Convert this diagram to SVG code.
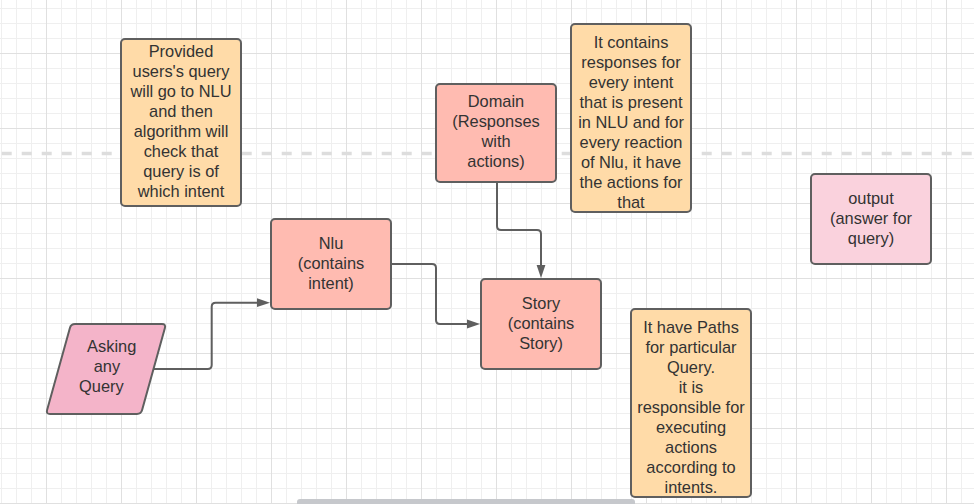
<svg xmlns="http://www.w3.org/2000/svg" width="974" height="504" viewBox="0 0 974 504">
<defs>
<style>
.box{stroke:#5f5f5f;stroke-width:2}
.note{fill:#ffdba8}
.proc{fill:#ffbbb1}
.t{font-family:"Liberation Sans",Arial,sans-serif;font-size:16.4px;fill:#333333;text-anchor:middle}
.conn{fill:none;stroke:#5f5f5f;stroke-width:2}
</style>
<pattern id="minor" x="1" y="8" width="15" height="15" patternUnits="userSpaceOnUse">
<rect x="0" y="0" width="15" height="1" fill="#efefef"/>
<rect x="0" y="0" width="1" height="15" fill="#efefef"/>
</pattern>
<pattern id="major" x="46" y="53" width="75" height="75" patternUnits="userSpaceOnUse">
<rect x="0" y="0" width="75" height="1" fill="#e0e0e0"/>
<rect x="0" y="0" width="1" height="75" fill="#e0e0e0"/>
</pattern>
<marker id="arrow" markerUnits="userSpaceOnUse" viewBox="0 0 13 10" markerWidth="13" markerHeight="10" refX="7" refY="5" orient="auto">
<path d="M0 0.6 L13 5 L0 9.4 Z" fill="#5f5f5f"/>
</marker>
</defs>
<g id="background">
<rect width="974" height="504" fill="#ffffff"/>
<rect width="974" height="504" fill="url(#minor)"/>
<rect width="974" height="504" fill="url(#major)"/>
<line x1="0" y1="153.5" x2="974" y2="153.5" stroke="#dddddd" stroke-width="3.5" stroke-dasharray="10 10" stroke-dashoffset="18.3"/>
</g>
<g id="connectors">
<path class="conn" d="M153.5 369 H207.7 Q211.7 369 211.7 365 V306.7 Q211.7 302.7 215.7 302.7 H264" marker-end="url(#arrow)"/>
<path class="conn" d="M391 264 H432 Q436 264 436 268 V320 Q436 324 440 324 H474" marker-end="url(#arrow)"/>
<path class="conn" d="M497 182 V226 Q497 230 501 230 H537 Q541 230 541 234 V272" marker-end="url(#arrow)"/>
</g>
<g id="note-nlu">
<rect class="box note" x="121" y="39" width="120" height="167" rx="4"/>
<text class="t" x="181" y="56.7"><tspan x="181">Provided</tspan><tspan x="181" dy="20">users's query</tspan><tspan x="181" dy="20">will go to NLU</tspan><tspan x="181" dy="20">and then</tspan><tspan x="181" dy="20">algorithm will</tspan><tspan x="181" dy="20">check that</tspan><tspan x="181" dy="20">query is of</tspan><tspan x="181" dy="20">which intent</tspan></text>
</g>
<g id="asking-query">
<path class="box" fill="#f4b4c9" d="M75 324 H162 Q166 324 164.9 327.9 L142.1 410.1 Q141 414 137 414 H50 Q46 414 47.1 410.1 L69.9 327.9 Q71 324 75 324 Z"/>
<text class="t"><tspan x="111.7" y="351.7">Asking</tspan><tspan x="106.9" y="371.7">any</tspan><tspan x="101.4" y="391.7">Query</tspan></text>
</g>
<g id="nlu">
<rect class="box proc" x="271" y="219" width="120" height="90" rx="4"/>
<text class="t"><tspan x="331" y="248.5">Nlu</tspan><tspan x="331" y="268.5">(contains</tspan><tspan x="331" y="288.5">intent)</tspan></text>
</g>
<g id="domain">
<rect class="box proc" x="436" y="84" width="120" height="98" rx="4"/>
<text class="t"><tspan x="496" y="106.8">Domain</tspan><tspan x="496" y="126.8">(Responses</tspan><tspan x="496" y="146.8">with</tspan><tspan x="496" y="166.8">actions)</tspan></text>
</g>
<g id="note-domain">
<rect class="box note" x="571" y="24" width="120" height="188" rx="4"/>
<text class="t"><tspan x="631" y="47.8">It contains</tspan><tspan x="631" y="67.8">responses for</tspan><tspan x="631" y="87.8">every intent</tspan><tspan x="631" y="107.8">that is present</tspan><tspan x="631" y="127.8">in NLU and for</tspan><tspan x="631" y="147.8">every reaction</tspan><tspan x="631" y="167.8">of Nlu, it have</tspan><tspan x="631" y="187.8">the actions for</tspan><tspan x="631" y="207.8">that</tspan></text>
</g>
<g id="story">
<rect class="box proc" x="481" y="279" width="120" height="90" rx="4"/>
<text class="t"><tspan x="541" y="309">Story</tspan><tspan x="541" y="329">(contains</tspan><tspan x="541" y="349">Story)</tspan></text>
</g>
<g id="note-story">
<rect class="box note" x="631" y="309" width="120" height="188" rx="4"/>
<text class="t"><tspan x="691" y="332.5">It have Paths</tspan><tspan x="691" y="352.5">for particular</tspan><tspan x="691" y="372.5">Query.</tspan><tspan x="691" y="392.5">it is</tspan><tspan x="691" y="412.5">responsible for</tspan><tspan x="691" y="432.5">executing</tspan><tspan x="691" y="452.5">actions</tspan><tspan x="691" y="472.5">according to</tspan><tspan x="691" y="492.5">intents.</tspan></text>
</g>
<g id="output">
<rect class="box" fill="#fad2dd" x="811" y="174" width="120" height="90" rx="4"/>
<text class="t"><tspan x="871" y="204">output</tspan><tspan x="871" y="224">(answer for</tspan><tspan x="871" y="244">query)</tspan></text>
</g>
<g id="scrollbar">
<rect x="297" y="499" width="338" height="10" rx="3" fill="#c6c8cc"/>
</g>
</svg>
